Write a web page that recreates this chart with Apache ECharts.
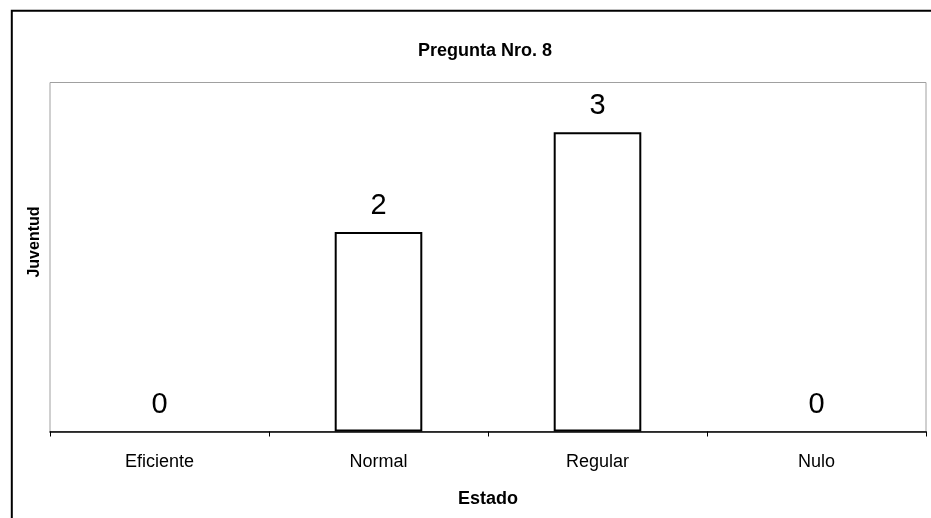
<!DOCTYPE html>
<html>
<head>
<meta charset="utf-8">
<script src="https://cdn.jsdelivr.net/npm/echarts@6/dist/echarts.min.js"></script>
<style>
html,body{margin:0;padding:0;background:#fff;}
#chart{width:931px;height:518px;}
</style>
</head>
<body>
<div id="chart"></div>
<script>
const titleText = "Pregunta Nro. 8";
const categories = ["Eficiente", "Normal", "Regular", "Nulo"];
const values = [0, 2, 3, 0];
const xAxisName = "Estado";
const yAxisName = "Juventud";

const chart = echarts.init(document.getElementById('chart'), null, {renderer: 'canvas'});
const font = "'Liberation Sans', Arial, sans-serif";
const barData = values.map(v => v === 0 ? {value: v, itemStyle: {borderWidth: 0}} : v);
chart.setOption({
  animation: false,
  backgroundColor: '#ffffff',
  graphic: [{
    type: 'rect',
    shape: {x: 11.8, y: 10.8, width: 940, height: 530},
    style: {fill: 'none', stroke: '#000', lineWidth: 2},
    silent: true
  }],
  title: {
    text: titleText,
    left: 480, top: 37, textAlign: 'center',
    textStyle: {fontFamily: font, fontWeight: 'bold', fontSize: 18, color: '#000'}
  },
  grid: {
    left: 50, right: 5, top: 82.5, bottom: 86.5,
    show: true, borderColor: '#a0a0a0', borderWidth: 1, backgroundColor: 'transparent',
    containLabel: false
  },
  xAxis: {
    type: 'category',
    data: categories,
    boundaryGap: true,
    name: xAxisName,
    nameLocation: 'middle',
    nameGap: 59,
    nameTextStyle: {fontFamily: font, fontWeight: 'bold', fontSize: 18, color: '#000'},
    axisLine: {show: true, lineStyle: {color: '#000', width: 1.5}},
    axisTick: {show: true, length: 5, interval: 0, lineStyle: {color: '#000', width: 1}},
    axisLabel: {fontFamily: font, fontSize: 18, color: '#000', margin: 22, interval: 0},
    splitLine: {show: false}
  },
  yAxis: {
    type: 'value',
    min: 0, max: 3.5,
    name: yAxisName,
    nameLocation: 'middle',
    nameGap: 7,
    nameRotate: 90,
    nameTextStyle: {fontFamily: font, fontWeight: 'bold', fontSize: 16, color: '#000', padding: [0, 0, 0, 30]},
    axisLine: {show: false},
    axisTick: {show: false},
    axisLabel: {show: false},
    splitLine: {show: false}
  },
  series: [{
    type: 'bar',
    data: barData,
    barWidth: '40%',
    itemStyle: {color: '#ffffff', borderColor: '#000', borderWidth: 2},
    label: {
      show: true, position: 'top', distance: 12,
      fontFamily: font, fontSize: 29, color: '#000'
    }
  }]
});
</script>
</body>
</html>
